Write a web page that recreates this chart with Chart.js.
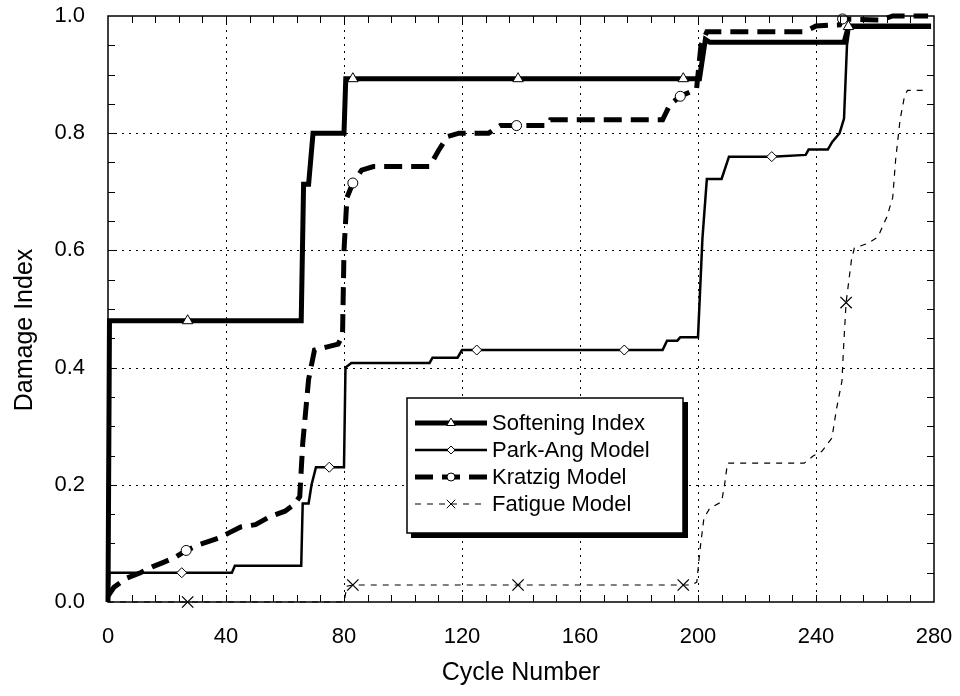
<!DOCTYPE html>
<html>
<head>
<meta charset="utf-8">
<title>Damage Index vs Cycle Number</title>
<script src="https://cdn.jsdelivr.net/npm/chart.js@4.4.1/dist/chart.umd.min.js"></script>
<style>
  html, body { margin: 0; padding: 0; background: #fff; }
  #wrap { width: 960px; height: 696px; position: relative; }
</style>
</head>
<body>
<div id="wrap"><canvas id="damage-chart"></canvas></div>
<script>
// values (cycle number -> damage index)
const softeningCycles = [0, 0.5, 27, 65.5, 66.3, 68, 69.5, 80, 80.6, 83, 139, 195, 200.5, 202.5, 204, 249.5, 251, 279];
const softeningValues = [0, 0.48, 0.48, 0.48, 0.713, 0.713, 0.80, 0.80, 0.893, 0.893, 0.893, 0.893, 0.893, 0.96, 0.955, 0.955, 0.982, 0.982];
const softeningMarks = [27, 83, 139, 195, 251];

const parkAngCycles = [0, 0.5, 25, 42, 43, 65.5, 66, 68, 69, 70.5, 75, 80, 80.5, 82.5, 109, 110, 118.5, 120, 125, 175,
  188, 189.5, 193, 194, 200, 201.5, 203, 208, 210.5, 225, 236.5, 237.5, 244, 245.5, 248, 249.5, 250.5, 251.5, 279];
const parkAngValues = [0, 0.05, 0.05, 0.05, 0.062, 0.062, 0.168, 0.168, 0.2, 0.23, 0.23, 0.23, 0.40, 0.408, 0.408, 0.417, 0.417, 0.43, 0.43, 0.43,
  0.43, 0.446, 0.446, 0.452, 0.452, 0.62, 0.722, 0.722, 0.76, 0.76, 0.763, 0.772, 0.772, 0.785, 0.80, 0.825, 0.95, 0.985, 0.985];
const parkAngMarks = [25, 75, 125, 175, 225];

const kratzigCycles = [0, 2, 6, 11, 15, 19, 23, 26.5, 31, 38, 41, 45, 50, 55, 60, 63, 65, 66, 68, 70,
  74, 78, 79.5, 80, 81, 83, 86, 90, 109, 112, 115, 119, 129, 133, 138.5, 149, 150, 188, 190.5, 194,
  199.5, 201, 203, 236, 240, 248, 249, 262, 266, 278];
const kratzigValues = [0.01, 0.025, 0.04, 0.05, 0.06, 0.068, 0.077, 0.088, 0.098, 0.11, 0.118, 0.128, 0.132, 0.146, 0.155, 0.166, 0.18, 0.27, 0.38, 0.43,
  0.435, 0.44, 0.455, 0.6, 0.69, 0.715, 0.737, 0.743, 0.743, 0.77, 0.794, 0.80, 0.80, 0.813, 0.813, 0.813, 0.823, 0.823, 0.849, 0.863,
  0.875, 0.95, 0.973, 0.973, 0.983, 0.985, 0.995, 0.993, 1.0, 1.0];
const kratzigMarks = [26.5, 83, 138.5, 194, 249];

const fatigueCycles = [0, 27, 80, 81, 83, 139, 195, 198, 199.6, 200.6, 202, 204, 208, 209, 210, 236, 239, 242, 245.4, 247,
  248.8, 249.3, 250.2, 252, 253, 257.6, 261, 264, 266, 267, 268.5, 270, 271, 278];
const fatigueValues = [0, 0, 0, 0.027, 0.029, 0.029, 0.029, 0.029, 0.034, 0.086, 0.143, 0.16, 0.171, 0.2, 0.237, 0.237, 0.249, 0.257, 0.28, 0.331,
  0.377, 0.43, 0.511, 0.583, 0.604, 0.612, 0.623, 0.657, 0.69, 0.755, 0.823, 0.863, 0.873, 0.873];
const fatigueMarks = [27, 83, 139, 195, 250.2];

const xTicks = [0, 40, 80, 120, 160, 200, 240, 280];
const yTicks = [0, 0.2, 0.4, 0.6, 0.8, 1.0];
const xMinorStep = 8;
const yMinorStep = 0.05;

const FONT = "'Liberation Sans', Arial, sans-serif";

function toPoints(cycles, values) {
  return cycles.map((c, i) => ({ x: c, y: values[i] }));
}

// only show a marker where the cycle is in the marks list
function markerRadius(marks, r) {
  return ctx => (ctx.raw && marks.includes(ctx.raw.x)) ? r : 0;
}

// dotted grid, inward minor ticks and the plot frame
const frame = {
  id: 'frame',
  beforeDatasetsDraw(chart) {
    const { ctx, chartArea: a, scales: { x, y } } = chart;
    ctx.save();
    ctx.strokeStyle = '#000';
    ctx.lineWidth = 1;
    ctx.setLineDash([2, 5]);
    xTicks.forEach(v => {
      if (v <= x.min || v >= x.max) return;
      const px = Math.round(x.getPixelForValue(v)) + 0.5;
      ctx.beginPath(); ctx.moveTo(px, a.top); ctx.lineTo(px, a.bottom); ctx.stroke();
    });
    yTicks.forEach(v => {
      if (v <= y.min || v >= y.max) return;
      const py = Math.round(y.getPixelForValue(v)) + 0.5;
      ctx.beginPath(); ctx.moveTo(a.left, py); ctx.lineTo(a.right, py); ctx.stroke();
    });
    ctx.restore();
  },
  afterDatasetsDraw(chart) {
    const { ctx, chartArea: a, scales: { x, y } } = chart;
    const len = 7;
    ctx.save();
    ctx.strokeStyle = '#000';
    ctx.lineWidth = 1;
    ctx.beginPath();
    for (let v = x.min + xMinorStep; v < x.max; v += xMinorStep) {
      const px = Math.round(x.getPixelForValue(v)) + 0.5;
      ctx.moveTo(px, a.bottom); ctx.lineTo(px, a.bottom - len);
      ctx.moveTo(px, a.top); ctx.lineTo(px, a.top + len);
    }
    for (let v = y.min + yMinorStep; v < y.max - 1e-6; v += yMinorStep) {
      const py = Math.round(y.getPixelForValue(v)) + 0.5;
      ctx.moveTo(a.left, py); ctx.lineTo(a.left + len, py);
      ctx.moveTo(a.right, py); ctx.lineTo(a.right - len, py);
    }
    ctx.stroke();
    ctx.lineWidth = 1.5;
    ctx.strokeRect(a.left, a.top, a.right - a.left, a.bottom - a.top);
    ctx.restore();
  }
};

// y title drawn by hand, it sits a bit below the middle in the original
const yTitle = {
  id: 'yTitle',
  afterDraw(chart) {
    const { ctx, chartArea: a } = chart;
    ctx.save();
    ctx.translate(25, (a.top + a.bottom) / 2 + 21);
    ctx.rotate(-Math.PI / 2);
    ctx.font = '25px ' + FONT;
    ctx.fillStyle = '#000';
    ctx.textAlign = 'center';
    ctx.textBaseline = 'middle';
    ctx.fillText('Damage Index', 0, 0);
    ctx.restore();
  }
};

// boxed legend with a drop shadow, inside the plot
const legendBox = {
  id: 'legendBox',
  afterDraw(chart) {
    const { ctx, chartArea: a } = chart;
    const bx = a.left + 299, by = a.top + 382, bw = 276, bh = 135;
    ctx.save();
    ctx.fillStyle = '#fff';
    ctx.fillRect(bx, by, bw, bh);
    ctx.fillStyle = '#000';
    ctx.fillRect(bx + 4, by + bh, bw + 1, 5);
    ctx.fillRect(bx + bw, by + 4, 5, bh + 1);
    ctx.strokeStyle = '#000';
    ctx.lineWidth = 1.5;
    ctx.strokeRect(bx, by, bw, bh);

    chart.data.datasets.forEach((ds, i) => {
      const cy = by + 25 + i * 27;
      ctx.setLineDash(ds.borderDash || []);
      ctx.lineWidth = ds.borderWidth;
      ctx.beginPath();
      ctx.moveTo(bx + 8, cy);
      ctx.lineTo(bx + 80, cy);
      ctx.stroke();
      ctx.setLineDash([]);
      ctx.lineWidth = 1;
      ctx.fillStyle = '#fff';
      Chart.helpers.drawPoint(ctx, { pointStyle: ds.pointStyle, radius: ds.legendRadius, borderWidth: 1 }, bx + 44, cy);
      ctx.fillStyle = '#000';
      ctx.font = '22px ' + FONT;
      ctx.textAlign = 'left';
      ctx.textBaseline = 'middle';
      ctx.fillText(ds.label, bx + 85, cy + 1);
    });
    ctx.restore();
  }
};

const ctx = document.getElementById('damage-chart').getContext('2d');

new Chart(ctx, {
  type: 'line',
  data: {
    datasets: [
      {
        label: 'Softening Index',
        data: toPoints(softeningCycles, softeningValues),
        borderColor: '#000',
        borderWidth: 5,
        pointStyle: 'triangle',
        pointRadius: markerRadius(softeningMarks, 6),
        legendRadius: 5,
        pointBackgroundColor: '#fff',
        pointBorderColor: '#000',
        pointBorderWidth: 1,
        clip: false
      },
      {
        label: 'Park-Ang Model',
        data: toPoints(parkAngCycles, parkAngValues),
        borderColor: '#000',
        borderWidth: 2.5,
        pointStyle: 'rectRot',
        pointRadius: markerRadius(parkAngMarks, 5),
        legendRadius: 4,
        pointBackgroundColor: '#fff',
        pointBorderColor: '#000',
        pointBorderWidth: 1,
        clip: false
      },
      {
        label: 'Kratzig Model',
        data: toPoints(kratzigCycles, kratzigValues),
        borderColor: '#000',
        borderWidth: 5,
        borderDash: [18, 9],
        pointStyle: 'circle',
        pointRadius: markerRadius(kratzigMarks, 5),
        legendRadius: 4,
        pointBackgroundColor: '#fff',
        pointBorderColor: '#000',
        pointBorderWidth: 1,
        clip: false
      },
      {
        label: 'Fatigue Model',
        data: toPoints(fatigueCycles, fatigueValues),
        borderColor: '#000',
        borderWidth: 1.2,
        borderDash: [6, 6],
        pointStyle: 'crossRot',
        pointRadius: markerRadius(fatigueMarks, 8),
        legendRadius: 6,
        pointBorderColor: '#000',
        pointBorderWidth: 1.3,
        clip: false
      }
    ]
  },
  options: {
    responsive: true,
    maintainAspectRatio: false,
    animation: false,
    devicePixelRatio: 1,
    layout: { padding: { top: 16, right: 26, left: 0, bottom: 0 } },
    elements: { line: { tension: 0, fill: false } },
    plugins: {
      legend: { display: false },
      tooltip: { enabled: false }
    },
    scales: {
      x: {
        type: 'linear',
        min: 0,
        max: 280,
        afterBuildTicks: axis => { axis.ticks = xTicks.map(v => ({ value: v })); },
        afterFit: scale => {
          scale.height = 94;
          scale.paddingLeft = 0;
          scale.paddingRight = 0;
        },
        grid: { display: false, drawTicks: false },
        border: { display: false },
        ticks: {
          padding: 22,
          color: '#000',
          maxRotation: 0,
          font: { family: FONT, size: 22 }
        },
        title: {
          display: true,
          text: 'Cycle Number',
          color: '#000',
          font: { family: FONT, size: 25 },
          padding: { top: 0, bottom: 8 }
        }
      },
      y: {
        type: 'linear',
        min: 0,
        max: 1,
        afterBuildTicks: axis => { axis.ticks = yTicks.map(v => ({ value: v })); },
        afterFit: scale => {
          scale.width = 108;
          scale.paddingTop = 0;
          scale.paddingBottom = 0;
        },
        grid: { display: false, drawTicks: false },
        border: { display: false },
        ticks: {
          padding: 23,
          color: '#000',
          font: { family: FONT, size: 22 },
          callback: v => v.toFixed(1)
        }
      }
    }
  },
  plugins: [frame, yTitle, legendBox]
});
</script>
</body>
</html>
